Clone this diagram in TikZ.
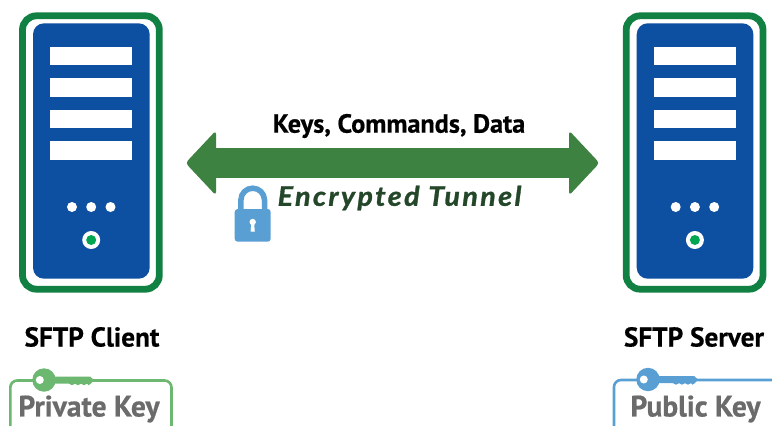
\documentclass[tikz,border=0pt]{standalone}
\usepackage{fontspec}
\setmainfont{PT Sans}[BoldFeatures={FakeBold=0.6}]
\newfontfamily\emphfont[LetterSpace=9,FakeBold=1.2,FakeStretch=1.06]{Lato Bold Italic}
\definecolor{frameG}{HTML}{108043}
\definecolor{bodyB}{HTML}{0D4FA0}
\definecolor{ledG}{HTML}{00A651}
\definecolor{arrowG}{HTML}{3D8240}
\definecolor{lockB}{HTML}{5A9FD4}
\definecolor{keyG}{HTML}{6DB870}
\definecolor{tunnelT}{HTML}{24472A}
\definecolor{keyT}{HTML}{6B6B6B}
\tikzset{
  serverpic/.pic={
    \draw[frameG,line width=6.8pt,rounded corners=14pt,fill=white] (22.5,15.8) rectangle (159.3,289.2);
    \fill[bodyB,rounded corners=11pt] (33,23.3) rectangle (149.7,278.7);
    \foreach \yy in {46.7,78.2,109.8,141.3}
      \fill[white] (50,\yy) rectangle (132,\yy+18.6);
    \foreach \xx in {72,91.2,110.5}
      \fill[white] (\xx,207) circle[radius=5];
    \fill[white] (91.2,240) circle[radius=9];
    \fill[ledG] (91.2,240) circle[radius=5];
  },
  keypic/.pic={
    \fill[pic actions] (0,0) circle[radius=11.7];
    \fill[pic actions] (8,-3.5) -- (46,-3.5) -- (50,0) -- (47,3.5) -- (44.5,5.2) -- (43,3.7) -- (40,5.2) -- (37,3.7) -- (34,5.2) -- (31,3.7) -- (28,5.2) -- (25,3.7) -- (8,3.7) -- cycle;
    \fill[white] (-4.2,0) circle[radius=4];
  },
  labelbig/.style={inner sep=0pt,text=black},
  keylabel/.style={inner sep=0pt,text=keyT},
  keybox/.style={line width=2.6pt,rounded corners=7pt,fill=white},
  arrowhead/.style={fill=arrowG,rounded corners=3.5pt},
}
\begin{document}
\begin{tikzpicture}[x=1pt,y=-1pt]
\useasboundingbox (0,0) rectangle (772,426);
\fill[white] (0,0) rectangle (772,426);
\pic at (0,0) {serverpic};
\pic at (603.7,0) {serverpic};
\node[labelbig,font=\fontsize{26.2}{30}\selectfont\bfseries] (keys) at (399,126) {Keys, Commands, Data};
\fill[arrowG] (205,148) rectangle (580,178);
\path[arrowhead] (185.5,163) -- (216,130.5) -- (216,195.5) -- cycle;
\path[arrowhead] (599.5,163) -- (569,130.5) -- (569,195.5) -- cycle;
\node[font=\fontsize{27}{30}\selectfont\emphfont,text=tunnelT,inner sep=0pt] (tunnel) at (399.5,198) {Encrypted Tunnel};
% lock
\draw[lockB,line width=5.5pt] (240.9,212) -- (240.9,200) arc[start angle=180,end angle=360,radius=11.8] -- (264.5,212);
\fill[lockB,rounded corners=3pt] (234.7,209) rectangle (270.7,241.7);
\fill[white] (252.7,222) circle[radius=3.2];
\fill[white] (251.4,222) -- (254,222) -- (254.8,231.5) -- (250.6,231.5) -- cycle;
% client
\node[labelbig,font=\fontsize{27.2}{30}\selectfont\bfseries] (client) at (92,337) {SFTP Client};
\draw[keyG,keybox] (10.3,440) -- (10.3,380.5) -- (171.5,380.5) -- (171.5,440);
\pic[fill=keyG] at (44,380) {keypic};
\node[keylabel,font=\fontsize{29.5}{32}\selectfont\bfseries] (priv) at (89,409) {Private Key};
% server
\node[labelbig,font=\fontsize{27.2}{30}\selectfont\bfseries] (serv) at (694,337) {SFTP Server};
\draw[lockB,keybox] (614,440) -- (614,380) -- (790,380) -- (790,440);
\pic[fill=lockB] at (648,379.5) {keypic};
\node[keylabel,font=\fontsize{29.5}{32}\selectfont\bfseries] (pub) at (695.5,409) {Public Key};
\end{tikzpicture}
\end{document}
